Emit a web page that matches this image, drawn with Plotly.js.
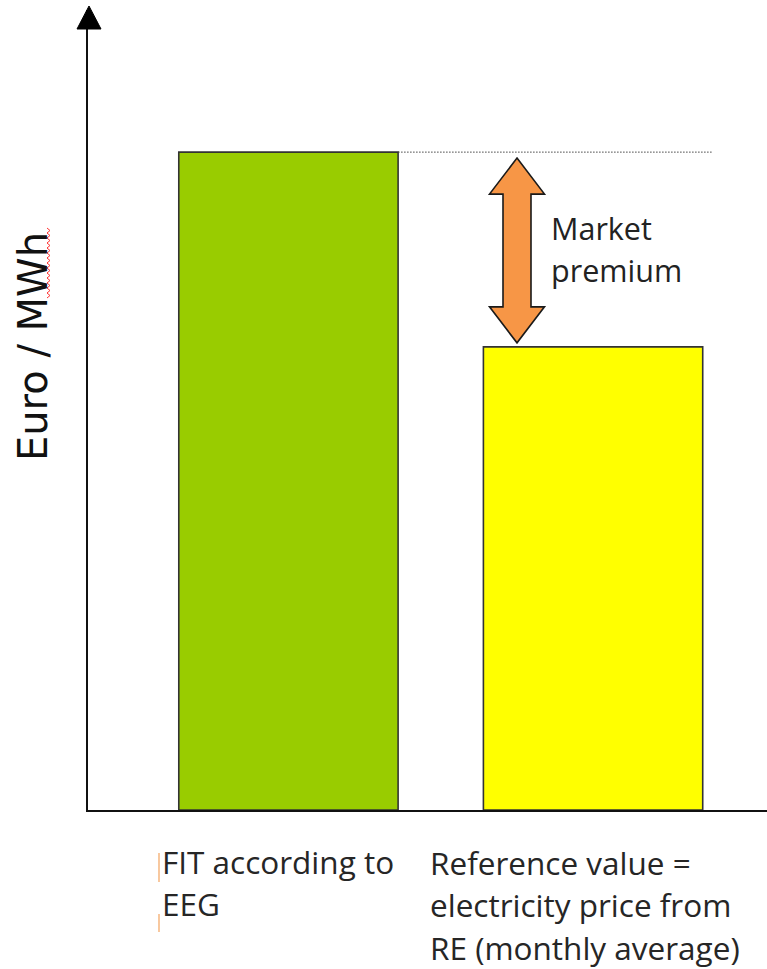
<!DOCTYPE html>
<html><head><meta charset="utf-8">
<script src="https://cdn.plot.ly/plotly-3.0.1.min.js"></script>
<style>html,body{margin:0;padding:0;background:#fff}#chart{width:767px;height:969px}</style>
</head><body><div id="chart"></div>
<script>
// ---- data ----
const categories = ["FIT according to EEG", "Reference value = electricity price from RE (monthly average)"];
const categoryLines = [["FIT according to", "EEG"], ["Reference value =", "electricity price from", "RE (monthly average)"]];
const values = [100, 70.4];
const barColors = ["#99CC00", "#FFFF00"];
const yTitle = "Euro / MWh";
const premiumLines = ["Market", "premium"];

// ---- layout geometry ----
const W = 767, H = 969, L = 88, R = 0, T = 10, B = 159;
const pw = W - L - R, ph = H - T - B;
const xr = [-0.658, 1.571];
const yr = [0, 121.6];
const pxPerX = pw / (xr[1] - xr[0]);
const pxPerY = ph / (yr[1] - yr[0]);
const px2paperX = px => (px - L) / pw;
const px2paperY = py => (H - B - py) / ph;
const px2dataX = px => xr[0] + (px - L) / pxPerX;
const barWidth = 0.72;

const xs = categories.map((c, i) => i);

const trace = {
  type: 'bar', x: xs, y: values, width: barWidth,
  marker: { color: barColors, line: { color: '#333333', width: 1.6 } },
  hoverinfo: 'skip'
};

const annotations = [];
// category labels, left aligned under bars
const labelShift = [-19, -55];
const labelTop = [861, 862];
const labelStep = [42.5, 42.5];
categoryLines.forEach((lines, i) => {
  lines.forEach((ln, j) => {
    annotations.push({
      text: ln, xref: 'x', yref: 'paper', x: xs[i] - barWidth / 2, xshift: labelShift[i],
      y: px2paperY(labelTop[i] + j * labelStep[i]), xanchor: 'left', yanchor: 'middle', showarrow: false,
      font: { family: 'Open Sans', size: 31.5, color: '#262626' }
    });
  });
});
// market premium text
premiumLines.forEach((ln, j) => {
  annotations.push({
    text: ln, xref: 'x', yref: 'paper', x: px2dataX(549), y: px2paperY(228 + j * 42),
    xanchor: 'left', yanchor: 'middle', showarrow: false,
    font: { family: 'Open Sans', size: 30.5, color: '#222222' }
  });
});
// y title
annotations.push({
  text: yTitle, xref: 'paper', yref: 'paper', x: px2paperX(33), y: px2paperY(347),
  xanchor: 'center', yanchor: 'middle', textangle: -90, showarrow: false,
  font: { family: 'DejaVu Sans', size: 40, color: '#111111' }
});

// double arrow (market premium) between bar tops
const cx = px2dataX(517);
const arrTop = values[0] - 6 / pxPerY;
const arrBot = values[1] + 4 / pxPerY;
const hh = 36 / pxPerY, hw = 27.5 / pxPerX, sw = 14 / pxPerX;
const arrowPath = `M${cx},${arrTop} L${cx + hw},${arrTop - hh} L${cx + sw},${arrTop - hh} L${cx + sw},${arrBot + hh} L${cx + hw},${arrBot + hh} L${cx},${arrBot} L${cx - hw},${arrBot + hh} L${cx - sw},${arrBot + hh} L${cx - sw},${arrTop - hh} L${cx - hw},${arrTop - hh} Z`;

// y-axis arrowhead
const ah = `M${px2paperX(89)},${px2paperY(6)} L${px2paperX(101)},${px2paperY(29)} L${px2paperX(77)},${px2paperY(29)} Z`;

// red squiggle (spell-check) under MWh
let sq = `M${px2paperX(47)},${px2paperY(228)}`;
for (let k = 0, y = 228; y < 298; k++) { y += 2.5; sq += ` L${px2paperX(k % 2 ? 47 : 50)},${px2paperY(y)}`; }

const shapes = [
  { type: 'line', xref: 'x', yref: 'y', x0: xs[0] + barWidth / 2, x1: px2dataX(712), y0: values[0], y1: values[0],
    line: { color: '#444444', width: 1, dash: '1.5px,1.5px' } },
  { type: 'path', xref: 'x', yref: 'y', path: arrowPath, fillcolor: '#F79646', line: { color: '#1a1a1a', width: 1.6 } },
  { type: 'path', xref: 'paper', yref: 'paper', path: ah, fillcolor: '#000000', line: { color: '#000000', width: 1 } },
  { type: 'path', xref: 'paper', yref: 'paper', path: sq, line: { color: '#FF3333', width: 1 } },
  { type: 'line', xref: 'paper', yref: 'paper', x0: px2paperX(159), x1: px2paperX(159), y0: px2paperY(853), y1: px2paperY(882),
    line: { color: '#F4A460', width: 1.2 } },
  { type: 'line', xref: 'paper', yref: 'paper', x0: px2paperX(159), x1: px2paperX(159), y0: px2paperY(914), y1: px2paperY(932),
    line: { color: '#F4A460', width: 1.2 } }
];

const layout = {
  width: W, height: H, margin: { l: L, r: R, t: T, b: B, pad: 0 },
  paper_bgcolor: '#ffffff', plot_bgcolor: '#ffffff', showlegend: false,
  xaxis: { range: xr, showline: true, linecolor: '#111111', linewidth: 2, showgrid: false, zeroline: false,
    showticklabels: false, ticks: '', fixedrange: true },
  yaxis: { range: yr, showline: true, linecolor: '#111111', linewidth: 2, showgrid: false, zeroline: false,
    showticklabels: false, ticks: '', fixedrange: true },
  annotations: annotations, shapes: shapes
};

Plotly.newPlot('chart', [trace], layout, { staticPlot: true, displayModeBar: false });
</script></body></html>
